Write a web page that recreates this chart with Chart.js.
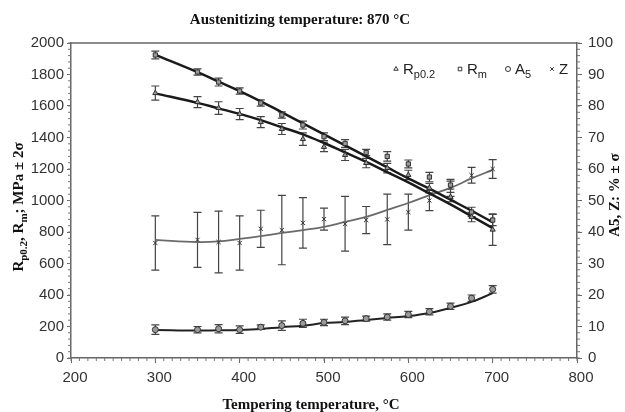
<!DOCTYPE html>
<html>
<head>
<meta charset="utf-8">
<script src="https://cdn.jsdelivr.net/npm/chart.js@4.4.1/dist/chart.umd.min.js"></script>
<style>
  html, body { margin: 0; padding: 0; background: #fff; }
</style>
</head>
<body>
<canvas id="chart" width="625" height="412"></canvas>
<script>
// Tempering temperatures (deg C)
const temps = [300, 350, 375, 400, 425, 450, 475, 500, 525, 550, 575, 600, 625, 650, 675, 700];

// Rm, MPa (squares) with 2 sigma and the fitted line
const rm     = [1924, 1816, 1752, 1695, 1619, 1543, 1479, 1405, 1362, 1305, 1280, 1232, 1149, 1098, 927, 876];
const rmErr  = [25, 20, 25, 20, 20, 20, 25, 25, 25, 20, 30, 25, 30, 25, 30, 35];
const rmFit  = [1925, 1815, 1755, 1695, 1630, 1560, 1490, 1420, 1350, 1280, 1210, 1140, 1075, 1005, 935, 862];

// Rp0.2, MPa (triangles)
const rp     = [1682, 1625, 1587, 1549, 1498, 1454, 1390, 1340, 1289, 1238, 1206, 1162, 1079, 1022, 895, 815];
const rpErr  = [45, 35, 40, 35, 35, 35, 40, 30, 35, 30, 30, 30, 30, 30, 30, 100];
const rpFit  = [1680, 1620, 1585, 1550, 1510, 1465, 1420, 1365, 1305, 1245, 1180, 1115, 1045, 975, 900, 825];

// A5, % (circles)
const a5     = [9, 9, 9.3, 9, 9.8, 10.3, 11, 11.3, 11.8, 12.5, 13, 13.8, 14.7, 16.4, 19, 21.8];
const a5Err  = [1.5, 1, 1.3, 1.2, 0.7, 1.5, 1.3, 1, 1.2, 0.8, 1, 1, 1, 1, 1, 1.2];
const a5Fit  = [8.9, 8.7, 8.8, 8.9, 9.2, 9.8, 10.2, 11.1, 11.4, 12.1, 12.7, 13.3, 14.3, 15.9, 17.8, 20.6];

// Z, % (crosses)
const z      = [36.5, 37.5, 36.8, 36.5, 41, 40.6, 42.9, 44.1, 42.6, 43.8, 44, 46.3, 50, 54, 58, 60];
const zErr   = [8.6, 8.7, 9.8, 8.6, 5.9, 11, 8, 3.5, 8.7, 4.3, 8, 5.7, 3.2, 2.7, 2.5, 3];
const zFit   = [37.5, 36.8, 37, 37.8, 38.7, 39.7, 40.6, 41.6, 43.2, 44.8, 47, 49.2, 51.7, 54, 57, 59.7];

// Axis ticks
const xTicks = { min: 200, max: 800, step: 100 };
const yTicks = { min: 0, max: 2000, step: 200 };
const y1Ticks = { min: 0, max: 100, step: 10 };

const pts = vals => temps.map((t, i) => ({ x: t, y: vals[i] }));

const SANS = '"Liberation Sans", Arial, sans-serif';
const SERIF = '"Liberation Serif", "Times New Roman", serif';

function fitLine(label, vals, axis, color, width) {
    return {
        label: label,
        data: pts(vals),
        yAxisID: axis,
        showLine: true,
        tension: 0.4,
        borderColor: color,
        borderWidth: width,
        pointRadius: 0,
        order: 2
    };
}

function markers(label, vals, errs, axis, style) {
    return {
        label: label,
        data: pts(vals),
        errors: errs,
        yAxisID: axis,
        showLine: false,
        pointStyle: style,
        pointRadius: 3,
        borderColor: '#333',
        backgroundColor: '#9a9a9a',
        borderWidth: 1,
        order: 0
    };
}

// draw text with subscript parts, e.g. [{t:'R'},{t:'m',sub:true}]
function drawRich(ctx, parts, x, y, size, family, weight, align) {
    const fontOf = p => `${weight} ${p.sub ? Math.round(size * 0.7) : size}px ${family}`;
    let w = 0;
    parts.forEach(p => { ctx.font = fontOf(p); w += ctx.measureText(p.t).width; });
    let cx = align === 'center' ? x - w / 2 : x;
    ctx.textBaseline = 'alphabetic';
    ctx.textAlign = 'left';
    parts.forEach(p => {
        ctx.font = fontOf(p);
        ctx.fillText(p.t, cx, p.sub ? y + size * 0.28 : y);
        cx += ctx.measureText(p.t).width;
    });
}

const errorBars = {
    id: 'errorBars',
    beforeDatasetsDraw(chart) {
        const ctx = chart.ctx;
        const xs = chart.scales.x;
        ctx.save();
        ctx.strokeStyle = '#444';
        ctx.lineWidth = 1.2;
        chart.data.datasets.forEach(ds => {
            if (!ds.errors) return;
            const ys = chart.scales[ds.yAxisID];
            ds.data.forEach((p, i) => {
                const px = xs.getPixelForValue(p.x);
                const top = ys.getPixelForValue(p.y + ds.errors[i]);
                const bot = ys.getPixelForValue(p.y - ds.errors[i]);
                ctx.beginPath();
                ctx.moveTo(px, top); ctx.lineTo(px, bot);
                ctx.moveTo(px - 4, top); ctx.lineTo(px + 4, top);
                ctx.moveTo(px - 4, bot); ctx.lineTo(px + 4, bot);
                ctx.stroke();
            });
        });
        ctx.restore();
    }
};

const decorations = {
    id: 'decorations',
    afterDraw(chart) {
        const ctx = chart.ctx;
        const area = chart.chartArea;
        const { x, y, y1 } = chart.scales;
        ctx.save();

        // top frame line
        ctx.strokeStyle = '#666';
        ctx.lineWidth = 1.5;
        ctx.beginPath();
        ctx.moveTo(area.left, area.top);
        ctx.lineTo(area.right, area.top);
        ctx.stroke();

        // minor ticks
        ctx.lineWidth = 1;
        ctx.strokeStyle = '#777';
        ctx.beginPath();
        for (let v = xTicks.min; v <= xTicks.max; v += xTicks.step / 10) {
            const px = x.getPixelForValue(v);
            ctx.moveTo(px, area.bottom); ctx.lineTo(px, area.bottom + 3);
        }
        for (let v = yTicks.min; v <= yTicks.max; v += yTicks.step / 5) {
            const py = y.getPixelForValue(v);
            ctx.moveTo(area.left, py); ctx.lineTo(area.left - 3, py);
        }
        for (let v = y1Ticks.min; v <= y1Ticks.max; v += y1Ticks.step / 5) {
            const py = y1.getPixelForValue(v);
            ctx.moveTo(area.right, py); ctx.lineTo(area.right + 3, py);
        }
        ctx.stroke();

        // titles
        ctx.fillStyle = '#111';
        drawRich(ctx, [{ t: 'Austenitizing temperature: 870 °C' }], 300, 24, 15, SERIF, 'bold', 'center');
        drawRich(ctx, [{ t: 'Tempering temperature, °C' }], 311, 409, 15, SERIF, 'bold', 'center');

        ctx.save();
        ctx.translate(18, 207);
        ctx.rotate(-Math.PI / 2);
        drawRich(ctx, [{ t: 'R' }, { t: 'p0.2', sub: true }, { t: ', R' }, { t: 'm', sub: true }, { t: '; MPa ± 2σ' }],
            0, 5, 15, SERIF, 'bold', 'center');
        ctx.restore();

        ctx.save();
        ctx.translate(614, 195);
        ctx.rotate(-Math.PI / 2);
        drawRich(ctx, [{ t: 'A5, Z: % ± σ' }], 0, 5, 15, SERIF, 'bold', 'center');
        ctx.restore();

        // legend
        const legend = [
            { style: 'triangle', mx: 396, tx: 403, parts: [{ t: 'R' }, { t: 'p0.2', sub: true }] },
            { style: 'rect', mx: 460, tx: 467, parts: [{ t: 'R' }, { t: 'm', sub: true }] },
            { style: 'circle', mx: 508, tx: 515, parts: [{ t: 'A' }, { t: '5', sub: true }] },
            { style: 'crossRot', mx: 552, tx: 559, parts: [{ t: 'Z' }] }
        ];
        legend.forEach(item => {
            ctx.strokeStyle = '#333';
            ctx.fillStyle = '#ffffff';
            ctx.lineWidth = 1;
            Chart.helpers.drawPoint(ctx, { pointStyle: item.style, radius: 2.5, borderWidth: 1 }, item.mx, 69);
            ctx.fillStyle = '#222';
            drawRich(ctx, item.parts, item.tx, 74, 15, SANS, 'normal', 'left');
        });

        ctx.restore();
    }
};

const tickFont = { family: SANS, size: 15 };
const plain = v => String(v);

new Chart(document.getElementById('chart'), {
    type: 'scatter',
    data: {
        datasets: [
            fitLine('Rm fit', rmFit, 'y', '#1a1a1a', 2.5),
            fitLine('Rp0.2 fit', rpFit, 'y', '#1a1a1a', 2.5),
            fitLine('A5 fit', a5Fit, 'y1', '#222', 2),
            fitLine('Z fit', zFit, 'y1', '#6a6a6a', 1.8),
            markers('Rp0.2', rp, rpErr, 'y', 'triangle'),
            markers('Rm', rm, rmErr, 'y', 'rect'),
            markers('A5', a5, a5Err, 'y1', 'circle'),
            markers('Z', z, zErr, 'y1', 'crossRot')
        ]
    },
    options: {
        responsive: false,
        animation: false,
        devicePixelRatio: 1,
        layout: { padding: { top: 43, left: 0, right: 0, bottom: 0 } },
        plugins: {
            legend: { display: false },
            tooltip: { enabled: false }
        },
        scales: {
            x: {
                type: 'linear',
                min: xTicks.min, max: xTicks.max,
                ticks: { stepSize: xTicks.step, font: tickFont, color: '#333', padding: 6, labelOffset: 4, callback: plain },
                grid: { drawOnChartArea: false, tickLength: 5, color: '#666' },
                border: { color: '#666', width: 1.5 },
                afterFit: s => { s.height = 54; }
            },
            y: {
                position: 'left',
                min: yTicks.min, max: yTicks.max,
                ticks: { stepSize: yTicks.step, font: tickFont, color: '#333', padding: 3, callback: plain },
                grid: { drawOnChartArea: false, tickLength: 4, color: '#666' },
                border: { color: '#666', width: 1.5 },
                afterFit: s => { s.width = 71; }
            },
            y1: {
                position: 'right',
                min: y1Ticks.min, max: y1Ticks.max,
                ticks: { stepSize: y1Ticks.step, font: tickFont, color: '#333', padding: 6, callback: plain },
                grid: { drawOnChartArea: false, tickLength: 5, color: '#666' },
                border: { color: '#666', width: 1.5 },
                afterFit: s => { s.width = 48; }
            }
        }
    },
    plugins: [errorBars, decorations]
});
</script>
</body>
</html>
